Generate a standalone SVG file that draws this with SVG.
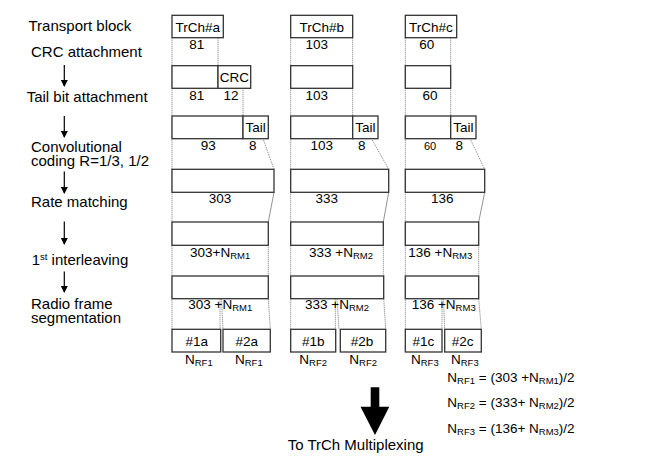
<svg xmlns="http://www.w3.org/2000/svg" width="645" height="464" viewBox="0 0 645 464">
<defs>
<style>
.bx{fill:#fff;stroke:#333;stroke-width:1.3}
.t{font-family:"Liberation Sans",Arial,sans-serif;fill:#000}
.lb{font-size:15px}
.n{font-size:13.5px}
.s{font-size:9.5px}
.c{text-anchor:middle}
.d{stroke:#777;stroke-width:1;stroke-dasharray:1,1;fill:none}
.g{stroke:#777;stroke-width:0.8;fill:none}
.ar{stroke:#000;stroke-width:1.2;fill:none}
</style>
<marker id="ah" markerWidth="8" markerHeight="8" refX="6" refY="3.5" orient="auto" markerUnits="userSpaceOnUse">
<path d="M0,0 L7,3.5 L0,7 Z" fill="#000"/>
</marker>
</defs>
<rect width="645" height="464" fill="#fff"/>

<g id="labels" class="t lb">
<text x="28.5" y="30.7">Transport block</text>
<text x="31" y="57">CRC attachment</text>
<text x="26.7" y="101.5">Tail bit attachment</text>
<text x="31" y="152">Convolutional</text>
<text x="31" y="166">coding R=1/3, 1/2</text>
<text x="31" y="207">Rate matching</text>
<text x="31.7" y="265">1<tspan font-size="9.5" dy="-5">st</tspan><tspan dy="5"> interleaving</tspan></text>
<text x="31" y="309">Radio frame</text>
<text x="31" y="322.7">segmentation</text>
</g>

<g id="connectors">
<line class="ar" x1="64.3" y1="65" x2="64.3" y2="86" marker-end="url(#ah)"/>
<line class="ar" x1="64.3" y1="116" x2="64.3" y2="137" marker-end="url(#ah)"/>
<line class="ar" x1="64.3" y1="171.5" x2="64.3" y2="193" marker-end="url(#ah)"/>
<line class="ar" x1="64.3" y1="221.5" x2="64.3" y2="244" marker-end="url(#ah)"/>
<line class="ar" x1="64.3" y1="271.5" x2="64.3" y2="292" marker-end="url(#ah)"/>
<!-- column a -->
<line class="d" x1="172" y1="37.7" x2="172" y2="329.3"/>
<line class="d" x1="218" y1="37.7" x2="218" y2="65.7"/>
<line class="d" x1="243" y1="88.3" x2="243" y2="116"/>
<line class="g" x1="263.5" y1="140" x2="274" y2="169.3" stroke-dasharray="1.5,1"/>
<line class="g" x1="274" y1="192.3" x2="268.3" y2="222"/>
<line class="d" x1="268.3" y1="245.3" x2="268.3" y2="276"/>
<line class="d" x1="220" y1="298.7" x2="220" y2="329.3"/>
<line class="d" x1="221.5" y1="298.7" x2="223" y2="329.3"/>
<line class="d" x1="268.3" y1="298.7" x2="270.3" y2="329.3"/>
<!-- column b -->
<line class="d" x1="290.7" y1="37.7" x2="290.7" y2="329.3"/>
<line class="d" x1="352.7" y1="37.7" x2="352.7" y2="65.7"/>
<line class="d" x1="352.7" y1="88.3" x2="352.7" y2="116"/>
<line class="g" x1="372.3" y1="140" x2="388.7" y2="169.3" stroke-dasharray="1.5,1"/>
<line class="g" x1="388.7" y1="192.3" x2="383.3" y2="222"/>
<line class="d" x1="383.3" y1="245.3" x2="383.3" y2="276"/>
<line class="d" x1="335.3" y1="298.7" x2="335.3" y2="329.3"/>
<line class="d" x1="337" y1="298.7" x2="339" y2="329.3"/>
<line class="d" x1="383.7" y1="298.7" x2="385.7" y2="329.3"/>
<!-- column c -->
<line class="d" x1="405.3" y1="37.7" x2="405.3" y2="329.3"/>
<line class="d" x1="450.7" y1="37.7" x2="450.7" y2="65.7"/>
<line class="d" x1="450.7" y1="88.3" x2="450.7" y2="116"/>
<line class="g" x1="470.7" y1="140" x2="484.7" y2="169.3" stroke-dasharray="1.5,1"/>
<line class="g" x1="484.7" y1="192.3" x2="478.7" y2="222"/>
<line class="d" x1="478.7" y1="245.3" x2="478.7" y2="276"/>
<line class="d" x1="442" y1="298.7" x2="442" y2="329.3"/>
<line class="d" x1="443.5" y1="298.7" x2="444.7" y2="329.3"/>
<line class="d" x1="478.7" y1="298.7" x2="481.3" y2="329.3"/>
<!-- big arrow -->
<path d="M370.7,387.3 H379.3 V406.7 H389.3 L375,435 L360.5,406.7 H370.7 Z" fill="#000"/>
</g>

<g id="colA" class="t n">
<g id="a-trch"><rect class="bx" x="172" y="15.3" width="51.3" height="22.4"/><text class="c" x="197.7" y="32.3">TrCh#a</text></g>
<text class="c" x="196.7" y="48.5">81</text>
<g id="a-crc"><rect class="bx" x="172" y="65.7" width="46" height="22.6"/><rect class="bx" x="218" y="65.7" width="32.7" height="22.6"/><text class="c" x="234.3" y="82">CRC</text></g>
<text class="c" x="196.7" y="100">81</text><text class="c" x="231" y="100">12</text>
<g id="a-tail"><rect class="bx" x="172" y="116" width="71" height="22.7"/><rect class="bx" x="243" y="116" width="25.3" height="22.7"/><text class="c" x="255.7" y="131.7">Tail</text></g>
<text class="c" x="208.3" y="150">93</text><text class="c" x="252.7" y="150">8</text>
<g id="a-rm"><rect class="bx" x="172" y="169.3" width="102" height="23"/></g>
<text class="c" x="220" y="202.5">303</text>
<g id="a-il"><rect class="bx" x="172" y="222" width="96.3" height="23.3"/></g>
<text x="190" y="257.3">303+N<tspan class="s" dy="2">RM1</tspan></text>
<g id="a-seg"><rect class="bx" x="172" y="276" width="96.3" height="22.7"/></g>
<text x="188.3" y="309.3">303 +N<tspan class="s" dy="2">RM1</tspan></text>
<g id="a-1"><rect class="bx" x="172" y="329.3" width="48.7" height="22.7"/><text class="c" x="196.7" y="346">#1a</text></g>
<g id="a-2"><rect class="bx" x="223" y="329.3" width="47.3" height="22.7"/><text class="c" x="246.7" y="346">#2a</text></g>
<text x="185" y="364">N<tspan class="s" dy="2">RF1</tspan></text>
<text x="235" y="364">N<tspan class="s" dy="2">RF1</tspan></text>
</g>

<g id="colB" class="t n">
<g id="b-trch"><rect class="bx" x="290.7" y="15.3" width="62" height="22.4"/><text class="c" x="321.7" y="32.3">TrCh#b</text></g>
<text class="c" x="316.7" y="48.5">103</text>
<g id="b-crc"><rect class="bx" x="290.7" y="65.7" width="62" height="22.6"/></g>
<text class="c" x="316.7" y="100">103</text>
<g id="b-tail"><rect class="bx" x="290.7" y="116" width="62" height="22.7"/><rect class="bx" x="352.7" y="116" width="25.3" height="22.7"/><text class="c" x="365.3" y="131.7">Tail</text></g>
<text class="c" x="321.7" y="150">103</text><text class="c" x="361.7" y="150">8</text>
<g id="b-rm"><rect class="bx" x="290.7" y="169.3" width="98" height="23"/></g>
<text class="c" x="326.7" y="202.5">333</text>
<g id="b-il"><rect class="bx" x="290.7" y="222" width="92.6" height="23.3"/></g>
<text x="309" y="257.3">333 +N<tspan class="s" dy="2">RM2</tspan></text>
<g id="b-seg"><rect class="bx" x="290.7" y="276" width="93" height="22.7"/></g>
<text x="305" y="309.3">333 +N<tspan class="s" dy="2">RM2</tspan></text>
<g id="b-1"><rect class="bx" x="290.7" y="329.3" width="45" height="22.7"/><text class="c" x="313.3" y="346">#1b</text></g>
<g id="b-2"><rect class="bx" x="340.3" y="329.3" width="45.4" height="22.7"/><text class="c" x="362" y="346">#2b</text></g>
<text x="299.3" y="364">N<tspan class="s" dy="2">RF2</tspan></text>
<text x="349.3" y="364">N<tspan class="s" dy="2">RF2</tspan></text>
</g>

<g id="colC" class="t n">
<g id="c-trch"><rect class="bx" x="405.3" y="15.3" width="51.4" height="22.4"/><text class="c" x="431" y="32.3">TrCh#c</text></g>
<text class="c" x="426.7" y="48.5">60</text>
<g id="c-crc"><rect class="bx" x="405.3" y="65.7" width="45.4" height="22.6"/></g>
<text class="c" x="430" y="100">60</text>
<g id="c-tail"><rect class="bx" x="405.3" y="116" width="45.4" height="22.7"/><rect class="bx" x="450.7" y="116" width="25.3" height="22.7"/><text class="c" x="463.3" y="131.7">Tail</text></g>
<text class="c" x="430" y="150" font-size="11">60</text><text class="c" x="459.3" y="150">8</text>
<g id="c-rm"><rect class="bx" x="405.3" y="169.3" width="79.4" height="23"/></g>
<text class="c" x="442.3" y="202.5">136</text>
<g id="c-il"><rect class="bx" x="405.3" y="222" width="73.4" height="23.3"/></g>
<text x="408.3" y="257.3">136 +N<tspan class="s" dy="2">RM3</tspan></text>
<g id="c-seg"><rect class="bx" x="405.3" y="276" width="73.4" height="22.7"/></g>
<text x="411.7" y="309.3">136 +N<tspan class="s" dy="2">RM3</tspan></text>
<g id="c-1"><rect class="bx" x="405.3" y="329.3" width="36.7" height="22.7"/><text class="c" x="423.3" y="346">#1c</text></g>
<g id="c-2"><rect class="bx" x="444.7" y="329.3" width="36.6" height="22.7"/><text class="c" x="462.7" y="346">#2c</text></g>
<text x="411" y="364">N<tspan class="s" dy="2">RF3</tspan></text>
<text x="451" y="364">N<tspan class="s" dy="2">RF3</tspan></text>
</g>

<g id="formulas" class="t n">
<text x="447.3" y="381.7">N<tspan class="s" dy="2">RF1</tspan><tspan dy="-2"> = (303 +N</tspan><tspan class="s" dy="2">RM1</tspan><tspan dy="-2">)/2</tspan></text>
<text x="447.3" y="406.7">N<tspan class="s" dy="2">RF2</tspan><tspan dy="-2"> = (333+ N</tspan><tspan class="s" dy="2">RM2</tspan><tspan dy="-2">)/2</tspan></text>
<text x="447.3" y="432.7">N<tspan class="s" dy="2">RF3</tspan><tspan dy="-2"> = (136+ N</tspan><tspan class="s" dy="2">RM3</tspan><tspan dy="-2">)/2</tspan></text>
</g>

<g id="output" class="t lb">
<text x="287.7" y="450">To TrCh Multiplexing</text>
</g>
</svg>
